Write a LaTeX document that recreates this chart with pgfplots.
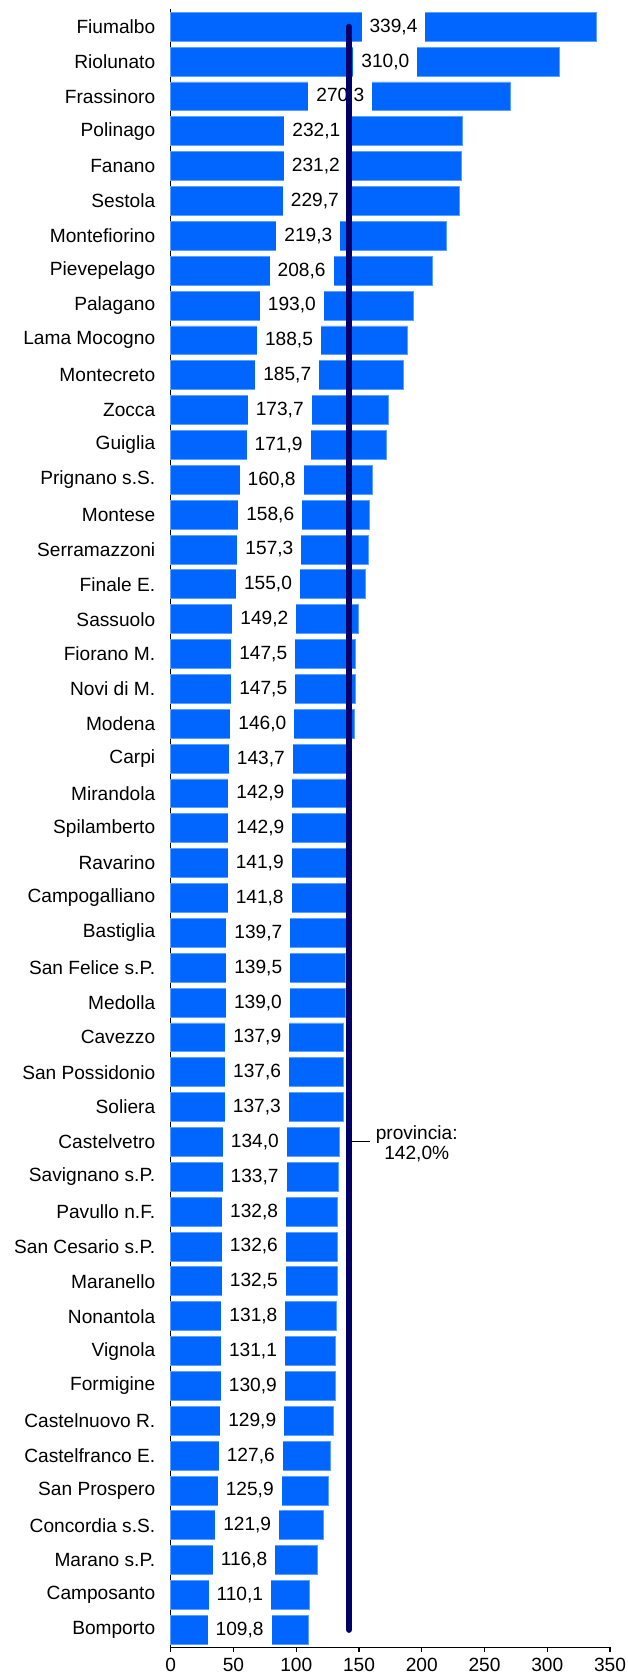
\documentclass[border=0pt]{standalone}
\usepackage{fontspec}
\setmainfont{Liberation Sans}
\usepackage{pgfplots}
\usepackage{pgfplotstable}
\pgfplotsset{compat=1.18}
\definecolor{barblue}{RGB}{0,102,255}
\definecolor{baredge}{RGB}{90,160,255}
\definecolor{navy}{RGB}{0,0,102}

\pgfplotstableread{
y v lx
0 339.4 177.5
1 310.0 171.0
2 270.3 135.15
3 232.1 116.05
4 231.2 115.6
5 229.7 114.85
6 219.3 109.65
7 208.6 104.3
8 193.0 96.5
9 188.5 94.25
10 185.7 92.85
11 173.7 86.85
12 171.9 85.95
13 160.8 80.4
14 158.6 79.3
15 157.3 78.65
16 155.0 77.5
17 149.2 74.6
18 147.5 73.75
19 147.5 73.75
20 146.0 73.0
21 143.7 71.85
22 142.9 71.45
23 142.9 71.45
24 141.9 70.95
25 141.8 70.9
26 139.7 69.85
27 139.5 69.75
28 139.0 69.5
29 137.9 68.95
30 137.6 68.8
31 137.3 68.65
32 134.0 67.0
33 133.7 66.85
34 132.8 66.4
35 132.6 66.3
36 132.5 66.25
37 131.8 65.9
38 131.1 65.55
39 130.9 65.45
40 129.9 64.95
41 127.6 63.8
42 125.9 62.95
43 121.9 60.95
44 116.8 58.4
45 110.1 55.05
46 109.8 54.9
}\datatable

\begin{document}
\begin{tikzpicture}[font=\fontsize{19.2}{22.5}\selectfont]
\begin{axis}[
  set layers=standard,
  scale only axis,
  width=439.3bp, height=1638bp,
  xmin=0, xmax=350,
  ymin=-0.5, ymax=46.5,
  y dir=reverse,
  axis x line*=bottom,
  axis y line*=left,
  axis line style={black, line width=1bp},
  xtick={0,50,...,350},
  x tick style={black, line width=1.3bp},
  xtick align=outside,
  major tick length=4.5bp,
  ytick={0,...,46},
  y tick style={draw=none},
  yticklabels={Fiumalbo,Riolunato,Frassinoro,Polinago,Fanano,Sestola,Montefiorino,Pievepelago,Palagano,Lama Mocogno,Montecreto,Zocca,Guiglia,Prignano s.S.,Montese,Serramazzoni,Finale E.,Sassuolo,Fiorano M.,Novi di M.,Modena,Carpi,Mirandola,Spilamberto,Ravarino,Campogalliano,Bastiglia,San Felice s.P.,Medolla,Cavezzo,San Possidonio,Soliera,Castelvetro,Savignano s.P.,Pavullo n.F.,San Cesario s.P.,Maranello,Nonantola,Vignola,Formigine,Castelnuovo R.,Castelfranco E.,San Prospero,Concordia s.S.,Marano s.P.,Camposanto,Bomporto},
  y tick label style={xshift=-12bp},
  x tick label style={yshift=-3bp},
  /pgf/number format/assume math mode=true,
  clip=false,
]
\addplot[xbar, bar width=0.83, fill=barblue, draw=baredge, line width=0.8bp]
  table[x=v, y=y] {\datatable};
\addplot[draw=none, mark=none,
  nodes near coords={\pgfmathprintnumber[fixed,fixed zerofill,precision=1,use comma]{\pgfplotspointmeta}},
  point meta=explicit,
  nodes near coords style={anchor=center, fill=white, draw=none, inner xsep=8bp, inner ysep=0pt, minimum height=31bp, text=black},
] table[x=lx, y=y, meta=v] {\datatable};
\addplot[navy, line width=6bp, line cap=round, on layer=axis foreground] coordinates {(142,0) (142,46)};
\draw[black, line width=1bp] (axis cs:144.4,32) -- (axis cs:158.6,32);
\node[align=center, inner sep=0pt] at (axis cs:196,32.05) {provincia:\\[-2bp]142,0\%};
\coordinate (SW) at (rel axis cs:0,0);
\coordinate (NE) at (rel axis cs:1,1);
\end{axis}
\pgfresetboundingbox
\path ([shift={(-170.7bp,-28.7bp)}]SW) rectangle ([shift={(17bp,9.3bp)}]NE);
\end{tikzpicture}
\end{document}
